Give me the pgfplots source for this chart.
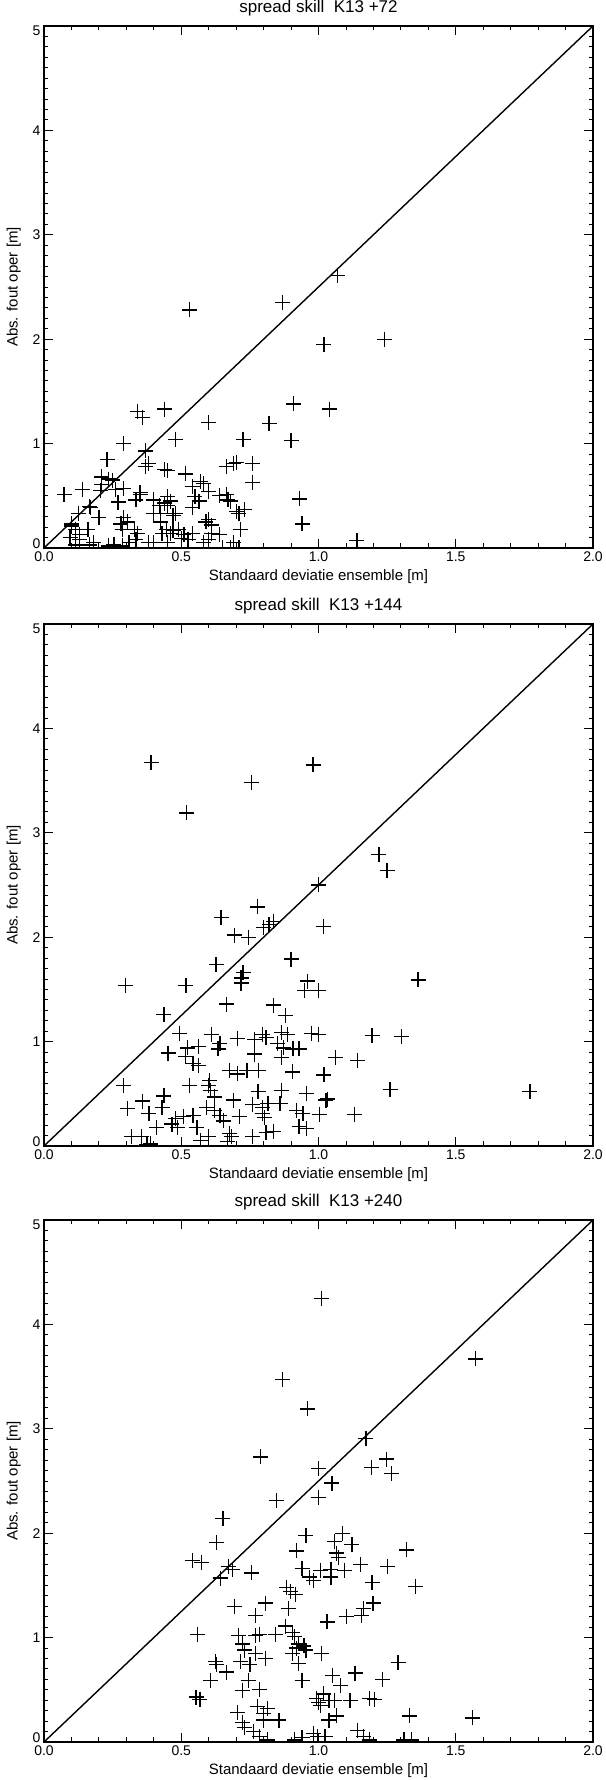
\documentclass[border=0pt]{standalone}
\usepackage{fontspec}
\setmainfont{Liberation Sans}
\usepackage{pgfplots}
\usepackage{pgfplotstable}
\pgfplotsset{compat=1.18}

% spread skill K13, +72 h
\pgfplotstableread{
x y
1.07 2.61
0.87 2.35
0.53 2.28
1.02 1.95
1.24 2.00
0.91 1.38
1.04 1.33
0.44 1.33
0.34 1.31
0.36 1.25
0.60 1.20
0.82 1.19
0.48 1.04
0.725 1.04
0.90 1.03
0.29 1.00
0.37 0.93
0.23 0.85
0.38 0.81
0.37 0.78
0.44 0.75
0.45 0.74
0.515 0.71
0.665 0.78
0.69 0.81
0.70 0.82
0.76 0.81
0.76 0.63
0.21 0.68
0.235 0.66
0.25 0.65
0.21 0.61
0.26 0.56
0.29 0.57
0.205 0.55
0.14 0.56
0.073 0.51
0.57 0.64
0.58 0.62
0.60 0.54
0.35 0.53
0.335 0.46
0.40 0.46
0.45 0.49
0.46 0.45
0.565 0.45
0.665 0.51
0.68 0.45
0.73 0.37
0.71 0.33
0.93 0.47
0.94 0.23
1.14 0.07
0.165 0.40
0.125 0.33
0.20 0.29
0.10 0.21
0.115 0.18
0.16 0.18
0.095 0.10
0.13 0.08
0.165 0.03
0.29 0.29
0.305 0.25
0.285 0.18
0.33 0.18
0.34 0.14
0.40 0.33
0.425 0.33
0.44 0.43
0.425 0.25
0.48 0.33
0.445 0.18
0.49 0.18
0.46 0.14
0.51 0.13
0.54 0.14
0.525 0.08
0.60 0.27
0.61 0.22
0.64 0.13
0.60 0.08
0.715 0.18
0.40 0.05
0.38 0.05
0.335 0.08
0.31 0.05
0.255 0.03
0.235 0.02
0.285 0.02
0.68 0.00
0.71 0.00
0.65 0.00
0.115 0.03
0.55 0.49
0.10 0.23
0.13 0.13
0.17 0.39
0.27 0.44
0.35 0.51
0.54 0.59
0.64 0.50
0.67 0.46
0.70 0.35
0.59 0.25
0.45 0.41
0.42 0.41
0.47 0.31
0.54 0.39
0.28 0.23
0.43 0.14
0.47 0.17
0.50 0.09
0.61 0.14
0.58 0.05
0.69 0.05
0.45 0.05
0.18 0.05
}\tabA

% +144 h
\pgfplotstableread{
x y
0.39 3.67
0.52 3.19
0.755 3.48
0.98 3.65
1.22 2.79
1.25 2.64
1.00 2.50
0.777 2.29
0.645 2.19
0.837 2.15
0.82 2.12
1.017 2.10
0.80 2.09
0.694 2.02
0.746 2.00
0.90 1.79
0.627 1.74
0.725 1.66
0.718 1.61
0.718 1.56
0.297 1.54
0.517 1.54
1.363 1.59
0.96 1.58
0.95 1.49
0.999 1.49
0.666 1.36
0.837 1.35
0.437 1.26
0.879 1.25
0.494 1.08
0.61 1.07
0.704 1.03
0.641 0.98
0.767 1.02
0.795 1.07
0.809 1.04
0.865 1.09
0.886 1.07
0.975 1.08
0.999 1.07
1.195 1.06
1.303 1.05
0.522 0.94
0.564 0.95
0.634 0.93
0.452 0.89
0.515 0.86
0.851 0.98
0.872 0.94
0.907 0.93
0.929 0.93
0.865 0.85
0.767 0.88
1.062 0.85
1.143 0.82
0.543 0.79
0.564 0.77
0.676 0.72
0.704 0.69
0.739 0.72
0.781 0.72
0.905 0.71
1.02 0.68
0.29 0.58
0.529 0.58
0.603 0.63
0.599 0.58
0.606 0.53
1.261 0.54
1.77 0.52
0.437 0.48
0.36 0.43
0.304 0.36
0.43 0.37
0.382 0.31
0.41 0.18
0.62 0.47
0.69 0.44
0.78 0.52
0.865 0.53
0.956 0.50
0.76 0.40
0.795 0.37
0.816 0.41
0.86 0.41
0.795 0.31
0.802 0.27
0.921 0.34
0.943 0.31
1.027 0.44
1.034 0.45
1.003 0.30
1.132 0.30
0.62 0.34
0.592 0.37
0.543 0.29
0.508 0.28
0.48 0.26
0.466 0.21
0.487 0.18
0.557 0.18
0.641 0.29
0.655 0.24
0.711 0.28
0.599 0.09
0.571 0.05
0.676 0.12
0.683 0.09
0.669 0.04
0.76 0.09
0.809 0.13
0.837 0.14
0.929 0.19
0.957 0.17
0.318 0.09
0.354 0.09
0.389 0.02
0.375 0.01
0.80 -0.03
0.90 -0.03
1.00 -0.03
1.10 -0.03
1.20 -0.03
1.30 -0.03
}\tabB

% +240 h
\pgfplotstableread{
x y
1.012 4.25
1.573 3.67
0.869 3.47
0.96 3.19
1.173 2.91
0.788 2.73
1.247 2.71
1.194 2.63
1.00 2.62
1.267 2.57
1.049 2.48
0.846 2.31
0.999 2.34
0.652 2.14
0.954 1.98
1.087 2.00
1.059 1.92
0.628 1.91
1.122 1.89
1.321 1.84
0.919 1.83
1.066 1.81
1.073 1.77
0.54 1.74
0.575 1.72
1.153 1.70
1.252 1.68
0.673 1.68
0.687 1.65
0.94 1.66
1.007 1.64
1.045 1.65
1.094 1.64
0.755 1.62
0.642 1.57
0.968 1.58
1.045 1.58
0.982 1.55
1.195 1.53
1.353 1.49
0.884 1.48
0.898 1.44
0.915 1.41
1.199 1.33
1.164 1.28
0.694 1.30
0.806 1.33
0.89 1.28
0.771 1.21
1.101 1.20
1.157 1.21
1.031 1.15
0.879 1.11
0.558 1.03
0.708 1.02
0.771 1.02
0.785 1.03
0.844 1.03
0.905 1.05
0.912 1.01
0.722 0.94
0.926 0.94
0.919 0.90
0.947 0.92
0.73 0.88
0.771 0.85
0.905 0.85
0.954 0.88
1.01 0.85
0.806 0.80
0.715 0.77
0.75 0.74
0.926 0.75
0.624 0.77
1.29 0.76
0.628 0.74
0.666 0.67
0.606 0.59
0.744 0.59
0.94 0.59
1.052 0.64
1.133 0.66
1.234 0.60
1.08 0.54
0.722 0.49
0.785 0.50
0.554 0.43
0.568 0.41
1.017 0.46
0.993 0.42
1.038 0.40
1.059 0.40
1.115 0.40
1.185 0.42
1.203 0.41
1.00 0.38
1.007 0.35
0.778 0.34
0.813 0.32
0.704 0.28
0.799 0.27
0.856 0.21
1.038 0.21
1.066 0.25
1.332 0.25
1.56 0.23
0.722 0.19
0.799 0.21
0.73 0.14
0.764 0.10
0.785 0.05
0.813 0.02
1.143 0.11
1.164 0.05
1.185 0.02
0.912 0.02
0.94 0.04
0.982 0.08
0.996 0.05
1.024 0.05
1.311 0.02
1.339 0.02
}\tabC

\pgfplotsset{
  skillpanel/.style={
    scale only axis, width=549pt, height=522pt,
    anchor=south west,
    xmin=0, xmax=2, ymin=0, ymax=5,
    xtick={0,0.5,1,1.5,2}, ytick={0,1,2,3,4,5},
    % end labels sit a little inside the axis, as in the original
    yticklabels={\raisebox{4pt}[\height][\depth]{0},1,2,3,4,\raisebox{-5pt}[\height][\depth]{5}},
    minor x tick num=4, minor y tick num=9,
    major tick length=9pt, minor tick length=4.5pt,
    tick style={line width=0.9pt, black},
    axis line style={line width=1.4pt},
    tick label style={font=\fontsize{14}{14}\selectfont},
    xticklabel style={/pgf/number format/.cd, fixed, fixed zerofill, precision=1},
    /pgf/number format/assume math mode=true,
    label style={font=\fontsize{15}{16}\selectfont},
    xlabel={Standaard deviatie ensemble [m]},
    ylabel={Abs. fout oper [m]},
    xlabel style={at={(axis description cs:0.5,-0.054)}, anchor=center},
    ylabel style={at={(axis description cs:-0.055,0.5)}, anchor=center},
    title style={font=\fontsize{17}{18}\selectfont, at={(axis description cs:0.5,1.022)}, anchor=center},
    clip marker paths=true,
  },
  crosses/.style={only marks, mark=+, mark size=7.5pt, mark options={line width=1.3pt, black}},
}

\begin{document}
\begin{tikzpicture}
  \begin{axis}[skillpanel, at={(44pt,1232pt)}, title={spread skill\ \ K13 +72}]
    \addplot[black, line width=1.4pt] coordinates {(0,0) (2,5)};
    \addplot[crosses] table[x=x, y=y] {\tabA};
  \end{axis}
  \begin{axis}[skillpanel, at={(44pt,634pt)}, title={spread skill\ \ K13 +144}]
    \addplot[black, line width=1.4pt] coordinates {(0,0) (2,5)};
    \addplot[crosses] table[x=x, y=y] {\tabB};
  \end{axis}
  \begin{axis}[skillpanel, at={(44pt,38pt)}, title={spread skill\ \ K13 +240}]
    \addplot[black, line width=1.4pt] coordinates {(0,0) (2,5)};
    \addplot[crosses] table[x=x, y=y] {\tabC};
  \end{axis}
  \pgfresetboundingbox
  \path (0,0) rectangle (605pt,1780pt);
\end{tikzpicture}
\end{document}
